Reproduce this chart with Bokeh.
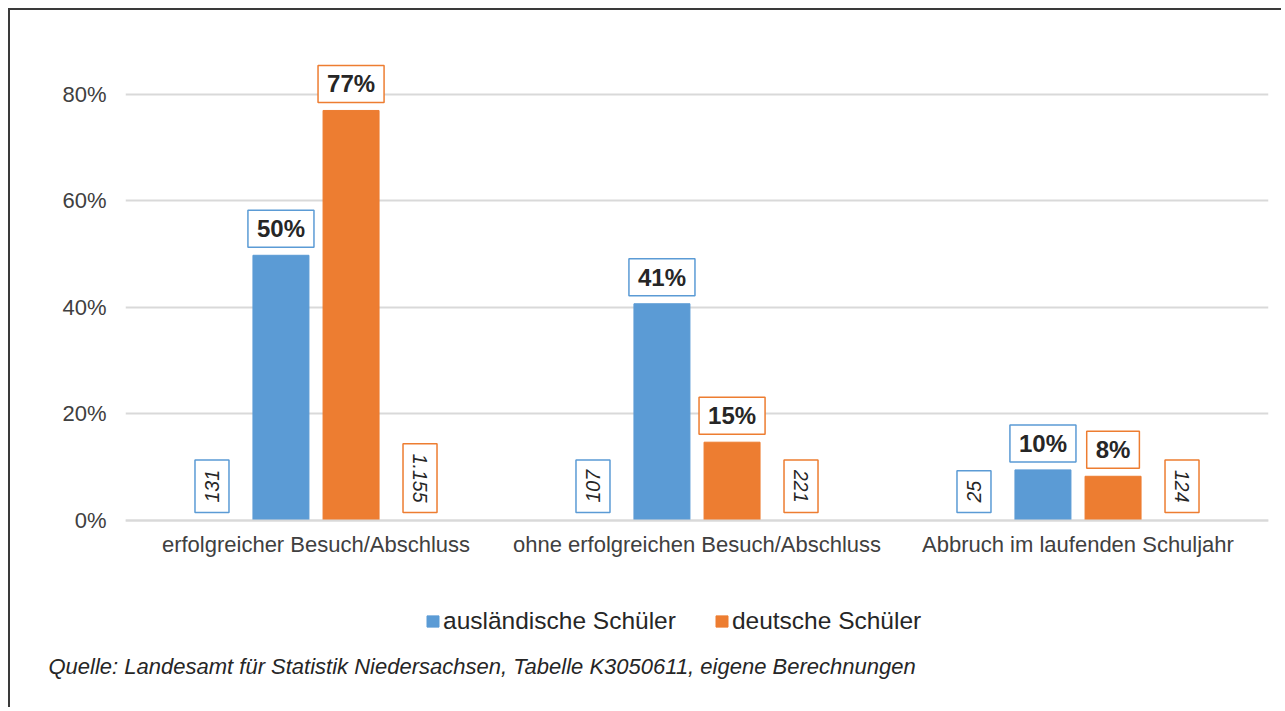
from bokeh.plotting import figure
from bokeh.models import (FactorRange, ColumnDataSource, Legend, LegendItem, Title,
                          NumeralTickFormatter, FixedTicker, Range1d)
from bokeh.transform import dodge
from bokeh.core.properties import value
from bokeh.embed import file_html
from bokeh.resources import INLINE

categories = ["erfolgreicher Besuch/Abschluss",
              "ohne erfolgreichen Besuch/Abschluss",
              "Abbruch im laufenden Schuljahr"]
share_foreign = [0.498, 0.407, 0.095]
share_german = [0.770, 0.147, 0.083]
count_foreign = ["131", "107", "25"]
count_german = ["1.155", "221", "124"]
series_names = ["ausländische Schüler", "deutsche Schüler"]
y_ticks = [0, 0.2, 0.4, 0.6, 0.8]
source_text = "Quelle: Landesamt für Statistik Niedersachsen, Tabelle K3050611, eigene Berechnungen"

BLUE = "#5B9BD5"
ORANGE = "#ED7D31"
FONT = "Liberation Sans"

src = ColumnDataSource(dict(
    cat=categories,
    foreign=share_foreign,
    german=share_german,
    foreign_lbl=[f"{round(v * 100):d}%" for v in share_foreign],
    german_lbl=[f"{round(v * 100):d}%" for v in share_german],
    cnt_f=count_foreign,
    cnt_g=count_german,
    zero=[0] * len(categories),
))

p = figure(x_range=FactorRange(*categories, range_padding=0),
           y_range=Range1d(-0.2423, 0.8995),
           width=1273, height=699, output_backend="svg", toolbar_location=None,
           min_border_left=115, min_border_right=15, min_border_top=31,
           min_border_bottom=60)
p.styles = {"margin-left": "8px", "margin-top": "8px",
            "border-left": "2px solid #3a3a3a", "border-top": "2px solid #3a3a3a"}
p.outline_line_color = None
p.background_fill_color = "white"
p.border_fill_color = "white"

bw = 0.147
r1 = p.vbar(x=dodge("cat", -0.092, range=p.x_range), top="foreign", width=bw,
            source=src, fill_color=BLUE, line_color=BLUE)
r2 = p.vbar(x=dodge("cat", 0.092, range=p.x_range), top="german", width=bw,
            source=src, fill_color=ORANGE, line_color=ORANGE)

# percentage labels in boxes
for col, lbl, off, color in [("foreign", "foreign_lbl", -0.092, BLUE),
                             ("german", "german_lbl", 0.092, ORANGE)]:
    p.text(x=dodge("cat", off, range=p.x_range), y=col, text=lbl, source=src,
           text_align="center", text_baseline="bottom", y_offset=-8,
           text_font=value(FONT), text_font_size="24px", text_font_style="bold",
           text_color="#262626", background_fill_color="white",
           border_line_color=color, border_line_width=1.5, padding=(9, 5))

# rotated count labels in boxes
p.text(x=dodge("cat", -0.273, range=p.x_range), y="zero", text="cnt_f", source=src,
       angle=1.5708, text_align="left", text_baseline="middle", y_offset=-8,
       text_font=value(FONT), text_font_size="19.5px", text_font_style="italic",
       text_color="#262626", background_fill_color="white",
       border_line_color=BLUE, border_line_width=1.5, padding=(10, 10))
p.text(x=dodge("cat", 0.273, range=p.x_range), y="zero", text="cnt_g", source=src,
       angle=-1.5708, text_align="right", text_baseline="middle", y_offset=-8,
       text_font=value(FONT), text_font_size="19.5px", text_font_style="italic",
       text_color="#262626", background_fill_color="white",
       border_line_color=ORANGE, border_line_width=1.5, padding=(10, 10))

# axes
p.yaxis.ticker = FixedTicker(ticks=y_ticks)
p.yaxis.formatter = NumeralTickFormatter(format="0%")
p.yaxis.axis_line_color = None
p.yaxis.major_tick_line_color = None
p.yaxis.minor_tick_line_color = None
p.yaxis.major_tick_out = 0
p.yaxis.major_label_standoff = 19
p.yaxis.major_label_text_font = FONT
p.yaxis.major_label_text_font_size = "22px"
p.yaxis.major_label_text_color = "#404040"

p.xaxis.fixed_location = 0
p.xaxis.axis_line_color = "#d9d9d9"
p.xaxis.axis_line_width = 2
p.xaxis.major_tick_line_color = None
p.xaxis.major_tick_out = 0
p.xaxis.major_label_standoff = 12
p.xaxis.major_label_text_font = FONT
p.xaxis.major_label_text_font_size = "22px"
p.xaxis.major_label_text_color = "#404040"

p.xgrid.grid_line_color = None
p.ygrid.grid_line_color = "#d9d9d9"
p.ygrid.grid_line_width = 2

legend = Legend(items=[LegendItem(label=series_names[0], renderers=[r1]),
                       LegendItem(label=series_names[1], renderers=[r2])],
                orientation="horizontal", location=(300, 14),
                glyph_width=15, glyph_height=14, label_standoff=3, spacing=38,
                padding=0, margin=0, border_line_color=None,
                background_fill_alpha=0,
                label_text_font=FONT, label_text_font_size="24.5px",
                label_text_color="#262626")
p.add_layout(legend, "center")

note = Title(text=source_text, align="left", offset=-77, standoff=5,
             text_font=FONT, text_font_size="22px", text_font_style="italic",
             text_color="#262626")
p.add_layout(note, "below")

open("out.html", "w").write(file_html(p, INLINE))
